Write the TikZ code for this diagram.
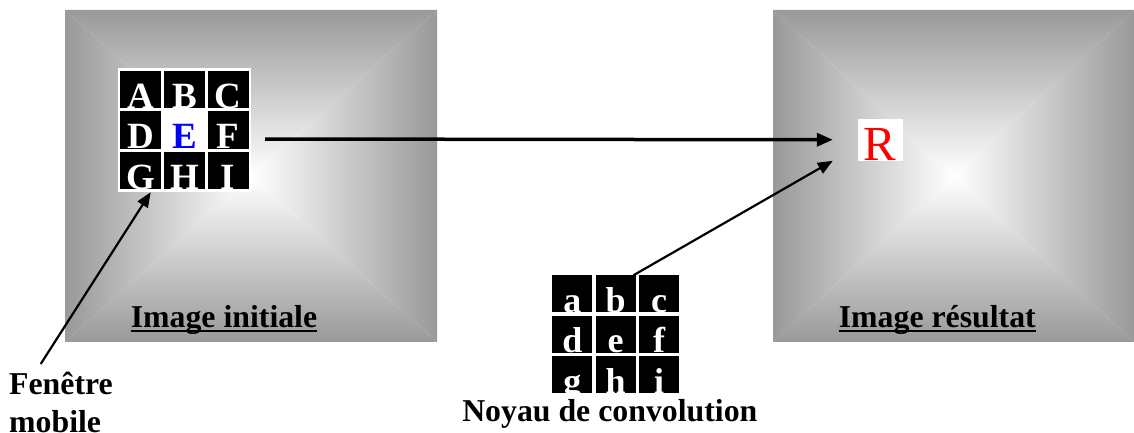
\documentclass[tikz,border=0pt]{standalone}
\usepackage{fontspec}
\setmainfont{Liberation Serif}
\usetikzlibrary{arrows.meta,calc}

\definecolor{edgegray}{gray}{0.6}

\tikzset{
    cellbox/.style={fill=black, text=white, inner sep=0pt, minimum width=41pt,
        text height=37.5pt, text depth=0pt, font=\fontsize{37}{40}\selectfont\bfseries},
    kernbox/.style={cellbox, minimum width=40pt, text height=37pt,
        font=\fontsize{36}{40}\selectfont\bfseries},
    captext/.style={inner sep=0pt, font=\fontsize{31.8}{38.2}\selectfont\bfseries},
    ulline/.style={line width=2pt},
    bigarrow/.style={-{Triangle[length=16pt,width=13pt]}, line width=3.5pt},
    thinarrow/.style={-{Triangle[length=15pt,width=12pt]}, line width=2.2pt}
}

\begin{document}
\begin{tikzpicture}[x=1pt,y=1pt]
    \useasboundingbox (0,0) rectangle (1134,433);

    % the two images, grey edges fading to a white centre
    \foreach \xa/\xb in {65/437,773/1134}{
        \coordinate (c) at ({(\xa+\xb)/2},257);
        \shade[top color=edgegray, bottom color=white] (\xa,423) -- (\xb,423) -- (c) -- cycle;
        \shade[bottom color=edgegray, top color=white] (\xa,91) -- (\xb,91) -- (c) -- cycle;
        \shade[left color=edgegray, right color=white] (\xa,423) -- (\xa,91) -- (c) -- cycle;
        \shade[right color=edgegray, left color=white] (\xb,423) -- (\xb,91) -- (c) -- cycle;
    }

    % moving window
    \node[fill=white, inner sep=0pt, minimum width=133pt, minimum height=124pt] (window) at (184.5,303) {};
    \foreach \t/\c/\r in {A/0/0,B/1/0,C/2/0,D/0/1,F/2/1,G/0/2,H/1/2,I/2/2}
        \node[cellbox] (\t) at ({140.7+43.7*\c},{343.3-40.3*\r}) {\t};
    \node[cellbox, fill=white, text=blue] (E) at (184.4,303) {E};

    % kernel
    \foreach \t/\c/\r in {a/0/0,b/1/0,c/2/0,d/0/1,e/1/1,f/2/1,g/0/2,h/1/2,i/2/2}
        \node[kernbox] (k\t) at ({572.3+43.4*\c},{139-40.5*\r}) {\t};

    % result pixel
    \node[fill=white, text=red, inner sep=0pt, minimum width=45pt, text height=41.7pt,
        text depth=0pt, font=\fontsize{49}{52}\selectfont] (R) at (880.2,293.2) {R};

    % captions
    \node[captext, anchor=base] (initcap) at (224,105.3) {Image initiale};
    \node[captext, anchor=base] (rescap) at (937.3,105.5) {Image résultat};
    \node[captext, anchor=base] (kerncap) at (609.8,11.3) {Noyau de convolution};
    \node[captext, anchor=north west, align=left] (fenetre) at (9,61) {Fenêtre\\mobile};

    \draw[ulline] ([yshift=-3.5pt]initcap.base west) -- ([yshift=-3.5pt]initcap.base east);
    \draw[ulline] ([yshift=-3.5pt]rescap.base west) -- ([yshift=-3.5pt]rescap.base east);

    % arrows
    \draw[bigarrow, shorten <=14pt, shorten >=24.7pt] ([yshift=-9pt]window.east) -- (R.west);
    \draw[thinarrow] ([xshift=17.7pt]kb.north) -- ([xshift=-24.7pt,yshift=-21pt]R.west);
    \draw[thinarrow] ([xshift=31.7pt,yshift=8pt]fenetre.north west) -- ([xshift=-33.8pt]window.south);
\end{tikzpicture}
\end{document}
